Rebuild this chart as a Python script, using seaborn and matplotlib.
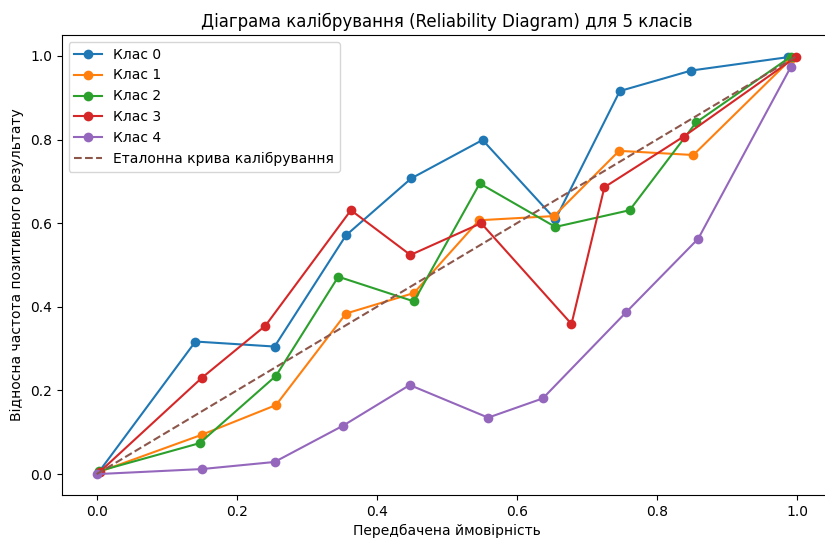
import matplotlib
matplotlib.use("Agg")
import matplotlib.pyplot as plt
import seaborn as sns
import numpy as np

classes = ["Клас 0", "Клас 1", "Клас 2", "Клас 3", "Клас 4"]
colors = ["#1f77b4", "#ff7f0e", "#2ca02c", "#d62728", "#9467bd"]

x0 = [0.003, 0.141, 0.254, 0.356, 0.449, 0.551, 0.655, 0.747, 0.849, 0.987]
y0 = [0.005, 0.317, 0.305, 0.571, 0.707, 0.799, 0.609, 0.916, 0.965, 0.997]

x1 = [0.003, 0.150, 0.256, 0.356, 0.453, 0.546, 0.653, 0.746, 0.852, 0.990]
y1 = [0.005, 0.094, 0.165, 0.384, 0.433, 0.607, 0.617, 0.773, 0.763, 0.990]

x2 = [0.003, 0.147, 0.256, 0.345, 0.453, 0.547, 0.655, 0.761, 0.856, 0.991]
y2 = [0.007, 0.074, 0.235, 0.472, 0.413, 0.695, 0.591, 0.631, 0.841, 0.998]

x3 = [0.004, 0.150, 0.241, 0.363, 0.448, 0.549, 0.678, 0.725, 0.838, 0.999]
y3 = [0.005, 0.230, 0.355, 0.631, 0.524, 0.600, 0.359, 0.686, 0.807, 0.998]

x4 = [0.001, 0.150, 0.254, 0.352, 0.447, 0.559, 0.637, 0.756, 0.859, 0.991]
y4 = [0.000, 0.012, 0.029, 0.116, 0.213, 0.135, 0.181, 0.387, 0.563, 0.973]

ref_x = [0.0, 1.0]
ref_y = [0.0, 1.0]

title = "Діаграма калібрування (Reliability Diagram) для 5 класів"
xlabel = "Передбачена ймовірність"
ylabel = "Відносна частота позитивного результату"
ref_label = "Еталонна крива калібрування"

xs = [x0, x1, x2, x3, x4]
ys = [y0, y1, y2, y3, y4]

fig = plt.figure(figsize=(8.25, 5.38), dpi=100)
ax = fig.add_axes([61.7 / 825, 1 - 495 / 538, (832 - 61.7) / 825, (495 - 35) / 538])

for name, c, xv, yv in zip(classes, colors, xs, ys):
    sns.lineplot(x=xv, y=yv, ax=ax, color=c, marker="o", label=name,
                 markeredgewidth=0, markersize=7, linewidth=1.5, sort=False)

sns.lineplot(x=ref_x, y=ref_y, ax=ax, color="#8c564b", linestyle="--",
             label=ref_label, linewidth=1.5)

ax.set_xlim(-0.05, 1.05)
ax.set_ylim(-0.05, 1.05)
ax.set_xticks([0.0, 0.2, 0.4, 0.6, 0.8, 1.0])
ax.set_yticks([0.0, 0.2, 0.4, 0.6, 0.8, 1.0])
ax.set_title(title, fontsize=12)
ax.set_xlabel(xlabel)
ax.set_ylabel(ylabel)
ax.legend(loc="upper left")

fig.savefig("out.png", dpi=100)
